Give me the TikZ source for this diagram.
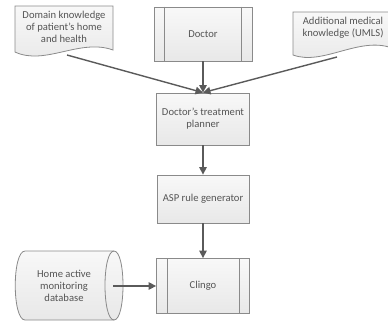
\documentclass[tikz,border=0pt]{standalone}
\usepackage{fontspec}
\setmainfont{Carlito}
\usetikzlibrary{arrows.meta}
\definecolor{edge}{HTML}{8A8A8A}
\definecolor{ink}{HTML}{555555}
\definecolor{wire}{HTML}{5A5A5A}
\definecolor{filltop}{HTML}{F8F8F8}
\definecolor{fillbot}{HTML}{E8E8E8}
\tikzset{
  shapefill/.style={top color=filltop, bottom color=fillbot, draw=edge, line width=0.8pt},
  procbox/.style={shapefill, rectangle, inner sep=0pt, align=center, text=ink},
  label/.style={align=center, text=ink, inner sep=0pt},
  flow/.style={draw=wire, line width=1.4pt, -{Triangle[length=7.5pt,width=7.5pt]}},
}
\begin{document}
\begin{tikzpicture}[x=1pt, y=-1pt, font=\fontsize{10.6}{12}\selectfont]
\useasboundingbox (0,0) rectangle (388,322);

% documents (wavy bottom edge)
\path[shapefill] (15,6) -- (113,6) -- (113,50)
  .. controls (80,38) and (45,66) .. (15,52) -- cycle;
\node[label] (domain) at (64,27) {Domain knowledge\\of patient's home\\and health};
\coordinate (domainout) at (67,55);

\path[shapefill] (293,12) -- (392,12) -- (392,48)
  .. controls (359,36) and (323,66) .. (293,55) -- cycle;
\node[label] (umls) at (343,28) {Additional medical\\knowledge (UMLS)};
\coordinate (umlsout) at (337,57);

% predefined processes
\node[procbox, minimum width=98pt, minimum height=54pt] (doctor) at (203,34) {Doctor};
\draw[edge, line width=0.8pt] ([xshift=11pt]doctor.north west) -- ([xshift=11pt]doctor.south west);
\draw[edge, line width=0.8pt] ([xshift=-11pt]doctor.north east) -- ([xshift=-11pt]doctor.south east);

\node[procbox, minimum width=93pt, minimum height=52pt] (planner) at (203,119) {Doctor's treatment\\planner};
\node[procbox, minimum width=92pt, minimum height=48pt] (asp) at (203,199) {ASP rule generator};

\node[procbox, minimum width=93pt, minimum height=55pt] (clingo) at (203,286) {Clingo};
\draw[edge, line width=0.8pt] ([xshift=11pt]clingo.north west) -- ([xshift=11pt]clingo.south west);
\draw[edge, line width=0.8pt] ([xshift=-11pt]clingo.north east) -- ([xshift=-11pt]clingo.south east);

% database drum lying on its side
\path[shapefill] (25,251) -- (114,251)
  .. controls (126,251) and (126,320) .. (114,320) -- (25,320)
  .. controls (12,320) and (12,251) .. (25,251) -- cycle;
\draw[edge, line width=0.8pt] (114,251) .. controls (102,251) and (102,320) .. (114,320);
\node[label] (db) at (64,286) {Home active\\monitoring\\database};
\coordinate (dbout) at (113,286);

% flow
\draw[flow] (doctor.south) -- (planner.north);
\draw[flow] (domainout) -- (planner.north);
\draw[flow] (umlsout) -- (planner.north);
\draw[flow] (planner.south) -- (asp.north);
\draw[flow] (asp.south) -- (clingo.north);
\draw[flow] (dbout) -- (clingo.west);
\end{tikzpicture}
\end{document}
